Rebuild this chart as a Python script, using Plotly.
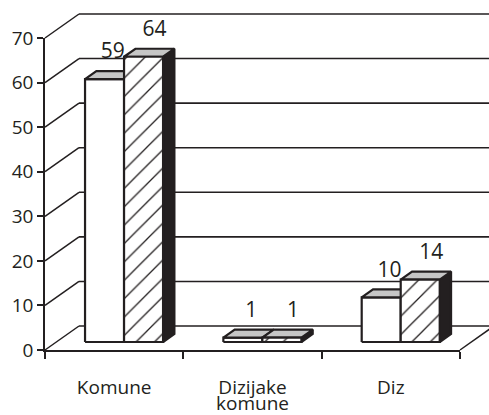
import plotly.graph_objects as go

# ---------------- data ----------------
categories = ["Komune", "Dizijake<br>komune", "Diz"]
series_white = [59, 1, 10]
series_hatched = [64, 1, 14]
y_ticks = [0, 10, 20, 30, 40, 50, 60, 70]

# ---------------- geometry / style ----------------
W, H = 489, 415
X0_PX, X1_PX = 45, 460      # front floor edge (pixels)
Y0_PX, YTOP_PX = 350, 38    # value 0 and value 70 on the front axis (pixels)
DEPTH_PX = (34, 24)         # perspective depth of the box (pixels)
YMAX = y_ticks[-1]
N = len(categories)

x_per = (X1_PX - X0_PX) / N
y_per = (Y0_PX - YTOP_PX) / YMAX
x_range = [-0.5 - X0_PX / x_per, -0.5 + (W - X0_PX) / x_per]
y_range = [-(H - Y0_PX) / y_per, Y0_PX / y_per]
DX = DEPTH_PX[0] / x_per
DY = DEPTH_PX[1] / y_per
fdx, fdy = DX / 3, DY / 3   # bars sit in the middle third of the depth
bdx, bdy = DX / 3, DY / 3
BAR_W = 0.282
GROUP_LEFT = -0.2925

INK = "#231f20"
TOP_GRAY = "#c6c6c6"
FONT = dict(family="Open Sans", size=19, color=INK)
VALUE_FONT = dict(family="Open Sans", size=21, color=INK)


def polys(list_of_pts, close=True):
    xs, ys = [], []
    for pts in list_of_pts:
        for (px, py) in pts:
            xs.append(px)
            ys.append(py)
        if close:
            xs.append(pts[0][0])
            ys.append(pts[0][1])
        xs.append(None)
        ys.append(None)
    return xs, ys


fig = go.Figure()

# back wall grid lines (drawn first so bars cover them)
bx, by = polys([[(-0.5 + DX, t + DY), (x_range[1] + 0.1, t + DY)] for t in y_ticks], close=False)
fig.add_trace(go.Scatter(x=bx, y=by, mode="lines", line=dict(color=INK, width=1.6),
                         hoverinfo="skip", showlegend=False))

# left wall diagonals and right floor diagonal
diag = [[(-0.5, t), (-0.5 + DX, t + DY)] for t in y_ticks]
diag.append([(N - 0.5, 0), (N - 0.5 + DX, DY)])
dx_, dy_ = polys(diag, close=False)
fig.add_trace(go.Scatter(x=dx_, y=dy_, mode="lines", line=dict(color=INK, width=1.5),
                         hoverinfo="skip", showlegend=False))

wf, wt, hs, ht, hf = [], [], [], [], []
for c, (va, vb) in enumerate(zip(series_white, series_hatched)):
    xl = c + GROUP_LEFT + fdx
    xm = xl + BAR_W
    xr = xm + BAR_W
    yb = fdy
    ya = va + fdy
    yh = vb + fdy
    wf.append([(xl, yb), (xm, yb), (xm, ya), (xl, ya)])
    wt.append([(xl, ya), (xm, ya), (xm + bdx, ya + bdy), (xl + bdx, ya + bdy)])
    hs.append([(xr, yb), (xr + bdx, yb + bdy), (xr + bdx, yh + bdy), (xr, yh)])
    ht.append([(xm, yh), (xr, yh), (xr + bdx, yh + bdy), (xm + bdx, yh + bdy)])
    hf.append([(xm, yb), (xr, yb), (xr, yh), (xm, yh)])

edge = dict(color=INK, width=2.2)


def add_poly(pts, fill, pattern=None):
    xs, ys = polys(pts)
    kw = dict(x=xs, y=ys, mode="lines", line=edge, fill="toself", fillcolor=fill,
              hoverinfo="skip", showlegend=False)
    if pattern:
        kw["fillpattern"] = pattern
    fig.add_trace(go.Scatter(**kw))


add_poly(wf, "white")
add_poly(wt, TOP_GRAY)
add_poly(hs, INK)
add_poly(ht, TOP_GRAY)
add_poly(hf, "white", dict(shape="/", fgcolor=INK, fgopacity=1, bgcolor="white",
                           size=13, solidity=0.1))

# value labels
lx, ly, lt = [], [], []
for c, (va, vb) in enumerate(zip(series_white, series_hatched)):
    xl = c + GROUP_LEFT + fdx
    lx += [xl + BAR_W / 2 + 0.06, xl + 1.5 * BAR_W + 0.08]
    ly += [va + fdy + 5.8, vb + fdy + 5.8]
    lt += [str(va), str(vb)]
fig.add_trace(go.Scatter(x=lx, y=ly, text=lt, mode="text", textfont=VALUE_FONT,
                         textposition="middle center", hoverinfo="skip", showlegend=False))

# category labels
cx, cy, ct = [], [], []
for c, lab in enumerate(categories):
    for k, line in enumerate(lab.split("<br>")):
        cx.append(c)
        cy.append(-8.9 - k * 3.6)
        ct.append(line)
fig.add_trace(go.Scatter(x=cx, y=cy, text=ct, mode="text", textfont=FONT,
                         textposition="middle center", hoverinfo="skip", showlegend=False))

# empty trace so the front-axes subplot is created
fig.add_trace(go.Scatter(x=[], y=[], xaxis="x2", yaxis="y2", hoverinfo="skip", showlegend=False))

fig.update_layout(
    width=W, height=H, autosize=False, margin=dict(l=0, r=0, t=0, b=0, pad=0, autoexpand=False),
    paper_bgcolor="white", plot_bgcolor="rgba(0,0,0,0)", showlegend=False,
    # drawing canvas
    xaxis=dict(domain=[0, 1], range=x_range, visible=False, anchor="y", automargin=False),
    yaxis=dict(domain=[0, 1], range=y_range, visible=False, anchor="x", automargin=False),
    # front axes
    xaxis2=dict(domain=[X0_PX / W, X1_PX / W], range=[-0.5, N - 0.5],
                tickvals=[i - 0.5 for i in range(N + 1)], showticklabels=False,
                ticks="outside", ticklen=7, tickwidth=1.5, tickcolor=INK,
                showline=True, linecolor=INK, linewidth=1.6, showgrid=False, zeroline=False,
                anchor="y2", automargin=False),
    yaxis2=dict(domain=[(H - Y0_PX) / H, (H - YTOP_PX) / H], range=[0, YMAX],
                tickvals=y_ticks, ticks="outside", ticklen=6, tickwidth=1.5, tickcolor=INK,
                tickfont=FONT, showline=True, linecolor=INK, linewidth=1.6,
                showgrid=False, zeroline=False, anchor="x2", automargin=False),
)

fig.write_html("out.html", config={"displayModeBar": False, "responsive": False},
               post_script="document.body.style.margin='0px';")
